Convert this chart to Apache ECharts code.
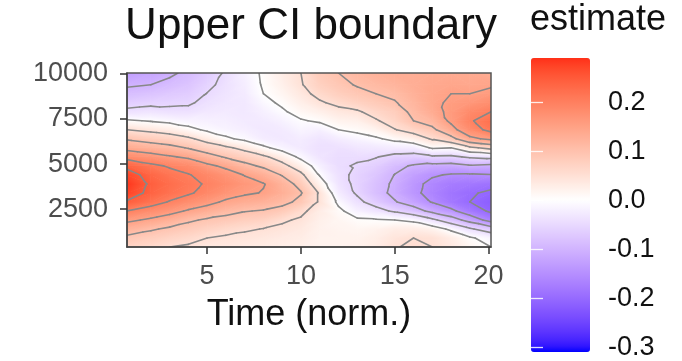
<!DOCTYPE html>
<html><head><meta charset="utf-8">
<script src="https://cdn.jsdelivr.net/npm/echarts@6/dist/echarts.min.js"></script>
<style>html,body{margin:0;padding:0;background:#fff}#chart{width:682px;height:361px}</style>
</head><body><div id="chart"></div>
<script>
// ---- data ----
const time = [0.73, 2, 3, 4, 5, 6, 7, 8, 9, 10, 11, 12, 13, 14, 15, 16, 17, 18, 19, 20.13];
const depth = [400, 900, 1400, 1900, 2400, 2900, 3400, 3900, 4400, 4900, 5400, 5900, 6400, 6900, 7400, 7900, 8400, 8900, 9400, 10050];
// estimate[timeIndex][depthIndex], depth from bottom (400) to top (10050)
const estimate = [
  [0.07, 0.09, 0.123, 0.159, 0.2, 0.245, 0.275, 0.285, 0.27, 0.238, 0.183, 0.136, 0.095, 0.05, 0.005, -0.04, -0.066, -0.087, -0.105, -0.13],
  [0.06, 0.08, 0.105, 0.143, 0.18, 0.218, 0.238, 0.243, 0.233, 0.21, 0.168, 0.123, 0.082, 0.04, -0.003, -0.035, -0.059, -0.08, -0.1, -0.12],
  [0.05, 0.07, 0.093, 0.127, 0.165, 0.197, 0.22, 0.225, 0.215, 0.195, 0.155, 0.113, 0.073, 0.03, -0.01, -0.04, -0.057, -0.072, -0.088, -0.108],
  [0.045, 0.062, 0.083, 0.107, 0.145, 0.18, 0.205, 0.21, 0.202, 0.185, 0.142, 0.097, 0.058, 0.011, -0.017, -0.04, -0.055, -0.067, -0.078, -0.09],
  [0.037, 0.05, 0.072, 0.094, 0.13, 0.163, 0.188, 0.196, 0.188, 0.16, 0.118, 0.075, 0.033, -0.006, -0.02, -0.031, -0.04, -0.049, -0.058, -0.07],
  [0.035, 0.045, 0.062, 0.087, 0.113, 0.143, 0.17, 0.182, 0.17, 0.14, 0.095, 0.058, 0.006, -0.015, -0.022, -0.028, -0.032, -0.036, -0.04, -0.045],
  [0.032, 0.042, 0.054, 0.078, 0.102, 0.132, 0.156, 0.165, 0.148, 0.113, 0.077, 0.037, -0.008, -0.022, -0.028, -0.03, -0.03, -0.027, -0.024, -0.02],
  [0.03, 0.038, 0.049, 0.072, 0.097, 0.125, 0.148, 0.152, 0.128, 0.092, 0.058, 0.008, -0.025, -0.03, -0.027, -0.02, -0.01, 0.0, 0.004, 0.006],
  [0.027, 0.033, 0.043, 0.055, 0.085, 0.112, 0.128, 0.123, 0.097, 0.064, 0.028, -0.015, -0.03, -0.028, -0.018, -0.005, 0.006, 0.016, 0.024, 0.03],
  [0.025, 0.03, 0.036, 0.045, 0.06, 0.09, 0.103, 0.085, 0.06, 0.025, -0.01, -0.028, -0.025, -0.015, -0.003, 0.013, 0.026, 0.037, 0.047, 0.05],
  [0.02, 0.02, 0.022, 0.025, 0.03, 0.045, 0.045, 0.02, -0.003, -0.02, -0.035, -0.04, -0.035, -0.02, 0.005, 0.025, 0.045, 0.062, 0.075, 0.085],
  [0.02, 0.02, 0.018, 0.015, 0.008, -0.008, -0.025, -0.035, -0.04, -0.045, -0.045, -0.04, -0.025, 0.0, 0.02, 0.038, 0.06, 0.078, 0.09, 0.1],
  [0.022, 0.02, 0.015, 0.005, -0.02, -0.04, -0.055, -0.058, -0.058, -0.053, -0.045, -0.033, -0.015, 0.008, 0.025, 0.045, 0.072, 0.09, 0.103, 0.115],
  [0.03, 0.028, 0.02, 0.003, -0.035, -0.068, -0.085, -0.083, -0.076, -0.065, -0.048, -0.03, -0.005, 0.02, 0.046, 0.065, 0.085, 0.1, 0.112, 0.125],
  [0.048, 0.042, 0.03, 0.0, -0.057, -0.097, -0.11, -0.107, -0.101, -0.088, -0.062, -0.026, 0.01, 0.048, 0.068, 0.08, 0.097, 0.108, 0.12, 0.13],
  [0.055, 0.05, 0.03, -0.009, -0.079, -0.122, -0.14, -0.138, -0.127, -0.105, -0.066, -0.025, 0.025, 0.068, 0.1, 0.11, 0.118, 0.125, 0.13, 0.13],
  [0.05, 0.048, 0.02, -0.04, -0.113, -0.153, -0.165, -0.161, -0.145, -0.113, -0.056, 0.005, 0.055, 0.09, 0.118, 0.135, 0.14, 0.14, 0.138, 0.135],
  [0.035, 0.03, -0.008, -0.077, -0.139, -0.181, -0.185, -0.176, -0.154, -0.116, -0.058, 0.0, 0.085, 0.135, 0.158, 0.16, 0.157, 0.15, 0.142, 0.135],
  [0.015, 0.005, -0.044, -0.118, -0.178, -0.2, -0.196, -0.181, -0.155, -0.104, -0.044, 0.04, 0.14, 0.18, 0.195, 0.185, 0.165, 0.15, 0.14, 0.135],
  [0.0, -0.015, -0.074, -0.17, -0.207, -0.215, -0.206, -0.189, -0.152, -0.111, -0.037, 0.065, 0.16, 0.212, 0.222, 0.2, 0.18, 0.16, 0.145, 0.13]
];
const xTicks = [5, 10, 15, 20];
const yTicks = [2500, 5000, 7500, 10000];
const legendTicks = [-0.3, -0.2, -0.1, 0, 0.1, 0.2];
const contourLevels = [-0.3, -0.25, -0.2, -0.15, -0.1, -0.05, 0, 0.05, 0.1, 0.15, 0.2, 0.25];
const estimateRange = [-0.31, 0.29];

// ---- colour scale (diverging blue-white-red, interpolated in CIELAB) ----
function toLin(c){c/=255;return c<=0.04045?c/12.92:Math.pow((c+0.055)/1.055,2.4);}
function fromLin(c){c=c<=0.0031308?12.92*c:1.055*Math.pow(c,1/2.4)-0.055;return Math.max(0,Math.min(255,Math.round(c*255)));}
function rgbToLab(rgb){
  const R=toLin(rgb[0]),G=toLin(rgb[1]),B=toLin(rgb[2]);
  const X=(0.4124564*R+0.3575761*G+0.1804375*B)/0.95047;
  const Y=(0.2126729*R+0.7151522*G+0.0721750*B);
  const Z=(0.0193339*R+0.1191920*G+0.9503041*B)/1.08883;
  const f=t=>t>0.008856?Math.cbrt(t):7.787*t+16/116;
  const fx=f(X),fy=f(Y),fz=f(Z);
  return [116*fy-16,500*(fx-fy),200*(fy-fz)];
}
function labToRgb(lab){
  const fy=(lab[0]+16)/116,fx=fy+lab[1]/500,fz=fy-lab[2]/200;
  const inv=t=>{const t3=t*t*t;return t3>0.008856?t3:(t-16/116)/7.787;};
  const X=inv(fx)*0.95047,Y=inv(fy),Z=inv(fz)*1.08883;
  const R=3.2404542*X-1.5371385*Y-0.4985314*Z;
  const G=-0.9692660*X+1.8760108*Y+0.0415560*Z;
  const B=0.0556434*X-0.2040259*Y+1.0572252*Z;
  return [fromLin(R),fromLin(G),fromLin(B)];
}
const LAB_LOW=rgbToLab([0,0,255]),LAB_MID=rgbToLab([255,255,255]),LAB_HIGH=rgbToLab([255,0,0]);
const halfSpan=Math.max(Math.abs(estimateRange[0]),Math.abs(estimateRange[1]));
function colorOf(v){
  let t=Math.max(-1,Math.min(1,v/halfSpan));
  const end=t<0?LAB_LOW:LAB_HIGH; t=Math.abs(t);
  const c=labToRgb([0,1,2].map(k=>LAB_MID[k]+(end[k]-LAB_MID[k])*t));
  return 'rgb('+c[0]+','+c[1]+','+c[2]+')';
}
const barColors=[];
for(let k=0;k<=60;k++){barColors.push(colorOf(estimateRange[0]+(estimateRange[1]-estimateRange[0])*k/60));}

// ---- cells / triangulation ----
const cells=[];
for(let i=0;i<time.length-1;i++){for(let j=0;j<depth.length-1;j++){cells.push([time[i],depth[j],i,j]);}}
function trianglesOf(i,j){
  const a=estimate[i][j],b=estimate[i+1][j],c=estimate[i+1][j+1],d=estimate[i][j+1];
  if(Math.abs(a-c)<=Math.abs(b-d)){
    return [[[i,j],[i+1,j],[i+1,j+1]],[[i,j],[i+1,j+1],[i,j+1]]];
  }
  return [[[i,j],[i+1,j],[i,j+1]],[[i+1,j],[i+1,j+1],[i,j+1]]];
}
function triFill(p,v){
  const vmin=Math.min(v[0],v[1],v[2]),vmax=Math.max(v[0],v[1],v[2]);
  const d1x=p[1][0]-p[0][0],d1y=p[1][1]-p[0][1],d2x=p[2][0]-p[0][0],d2y=p[2][1]-p[0][1];
  const det=d1x*d2y-d1y*d2x;
  if(vmax-vmin<1e-6||Math.abs(det)<1e-9)return colorOf((vmin+vmax)/2);
  const A=v[1]-v[0],B=v[2]-v[0];
  const gx=(A*d2y-B*d1y)/det,gy=(B*d1x-A*d2x)/det;
  const g2=gx*gx+gy*gy;
  if(g2<1e-14)return colorOf((vmin+vmax)/2);
  const x1=p[0][0]+(vmin-v[0])*gx/g2,y1=p[0][1]+(vmin-v[0])*gy/g2;
  const x2=p[0][0]+(vmax-v[0])*gx/g2,y2=p[0][1]+(vmax-v[0])*gy/g2;
  const offs=[0,0.2,0.4,0.6,0.8,1];
  if(vmin<0&&vmax>0)offs.push(-vmin/(vmax-vmin));
  offs.sort((a,b)=>a-b);
  const stops=offs.map(o=>({offset:o,color:colorOf(vmin+o*(vmax-vmin))}));
  return new echarts.graphic.LinearGradient(x1,y1,x2,y2,stops,true);
}
function renderFill(params,api){
  const i=api.value(2),j=api.value(3);
  const children=trianglesOf(i,j).map(tri=>{
    const pts=tri.map(q=>api.coord([time[q[0]],depth[q[1]]]));
    const vals=tri.map(q=>estimate[q[0]][q[1]]);
    const f=triFill(pts,vals);
    return {type:'polygon',shape:{points:pts},style:{fill:f,stroke:f,lineWidth:0.9}};
  });
  return {type:'group',children};
}
function renderContours(params,api){
  const i=api.value(2),j=api.value(3);
  const children=[];
  trianglesOf(i,j).forEach(tri=>{
    const pts=tri.map(q=>api.coord([time[q[0]],depth[q[1]]]));
    const vals=tri.map(q=>estimate[q[0]][q[1]]);
    contourLevels.forEach(lv=>{
      const seg=[];
      [[0,1],[1,2],[2,0]].forEach(e=>{
        const va=vals[e[0]],vb=vals[e[1]];
        if((va<lv)!==(vb<lv)){
          const t=(lv-va)/(vb-va);
          seg.push([pts[e[0]][0]+t*(pts[e[1]][0]-pts[e[0]][0]),pts[e[0]][1]+t*(pts[e[1]][1]-pts[e[0]][1])]);
        }
      });
      if(seg.length===2){
        children.push({type:'line',shape:{x1:seg[0][0],y1:seg[0][1],x2:seg[1][0],y2:seg[1][1]},
          style:{stroke:'#888888',lineWidth:1.6,lineCap:'round'}});
      }
    });
  });
  return {type:'group',children};
}

const FONT='"Liberation Sans", Arial, Helvetica, sans-serif';
const chart=echarts.init(document.getElementById('chart'),null,{renderer:'canvas'});
chart.setOption({
  animation:false,
  backgroundColor:'#ffffff',
  title:{text:'Upper CI boundary',left:311,top:5,textAlign:'center',padding:0,
    textStyle:{fontSize:44,fontWeight:'normal',color:'#111111',fontFamily:FONT}},
  graphic:[{type:'text',left:530,top:2,style:{text:'estimate',fontSize:36,fontFamily:FONT,fill:'#111111'}}],
  grid:[
    {left:127,top:73,width:364,height:174,show:true,borderColor:'#555555',borderWidth:1.5,backgroundColor:'transparent',z:10},
    {left:531,top:58,width:59,height:294,show:false}
  ],
  xAxis:[
    {gridIndex:0,type:'value',min:0.73,max:20.13,
     name:'Time (norm.)',nameLocation:'middle',nameGap:50,
     nameTextStyle:{fontSize:36,color:'#111111',fontFamily:FONT},
     axisLine:{show:true,onZero:false,lineStyle:{color:'#444444',width:1.5}},
     axisTick:{show:true,length:7,lineStyle:{color:'#333333',width:1.5},customValues:xTicks},
     axisLabel:{customValues:xTicks,formatter:v=>String(v),margin:16,fontSize:27,color:'#4d4d4d',fontFamily:FONT},
     splitLine:{show:false},z:10},
    {gridIndex:1,type:'value',min:0,max:1,show:false}
  ],
  yAxis:[
    {gridIndex:0,type:'value',min:400,max:10050,
     axisLine:{show:true,onZero:false,lineStyle:{color:'#444444',width:1.5}},
     axisTick:{show:true,length:7,lineStyle:{color:'#333333',width:1.5},customValues:yTicks},
     axisLabel:{customValues:yTicks,formatter:v=>String(v),margin:19,fontSize:27,color:'#4d4d4d',fontFamily:FONT},
     splitLine:{show:false},z:10},
    {gridIndex:1,type:'value',min:estimateRange[0],max:estimateRange[1],position:'right',
     axisLine:{show:false},
     axisTick:{show:true,inside:true,length:12,lineStyle:{color:'rgba(255,255,255,0.85)',width:1.3},customValues:legendTicks},
     axisLabel:{customValues:legendTicks,formatter:v=>v.toFixed(1),margin:18,fontSize:27,color:'#111111',fontFamily:FONT},
     splitLine:{show:false},z:10},
    {gridIndex:1,type:'value',min:estimateRange[0],max:estimateRange[1],position:'left',
     axisLine:{show:false},
     axisTick:{show:true,inside:true,length:12,lineStyle:{color:'rgba(255,255,255,0.85)',width:1.3},customValues:legendTicks},
     axisLabel:{show:false},splitLine:{show:false},z:10}
  ],
  visualMap:{type:'continuous',min:estimateRange[0],max:estimateRange[1],seriesIndex:[],calculable:false,
    orient:'vertical',left:531,top:58,itemWidth:59,itemHeight:294,padding:0,showLabel:false,hoverLink:false,
    inRange:{color:barColors},z:2},
  series:[
    {type:'custom',name:'estimate',xAxisIndex:0,yAxisIndex:0,data:cells,encode:{x:0,y:1},
     renderItem:renderFill,clip:true,z:1,silent:true},
    {type:'custom',name:'contours',xAxisIndex:0,yAxisIndex:0,data:cells,encode:{x:0,y:1},
     renderItem:renderContours,clip:true,z:2,silent:true}
  ]
});
</script></body></html>
